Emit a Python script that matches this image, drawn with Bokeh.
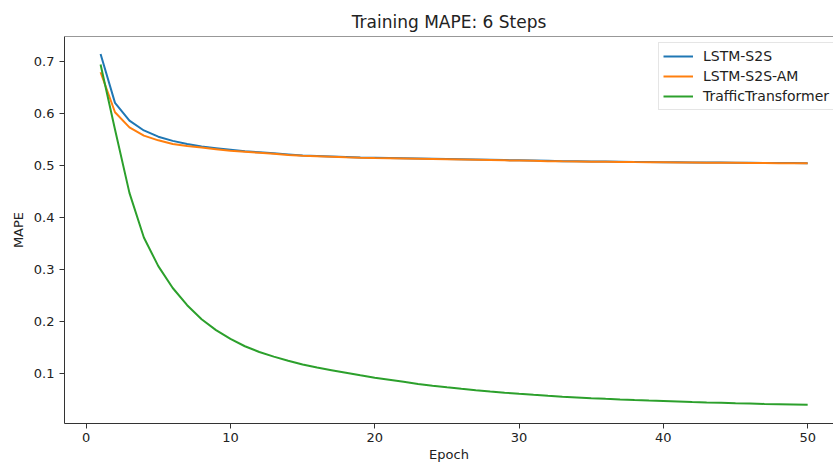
from bokeh.plotting import figure
from bokeh.models import Range1d, Legend, LegendItem, FixedTicker, Span
from bokeh.embed import file_html
from bokeh.resources import INLINE

epochs = list(range(1, 51))

lstm_s2s = [0.715, 0.621, 0.587, 0.568, 0.556, 0.548, 0.542, 0.537, 0.534, 0.531,
            0.528, 0.526, 0.524, 0.522, 0.520, 0.519, 0.518, 0.517, 0.516, 0.5155,
            0.515, 0.5145, 0.514, 0.5135, 0.513, 0.5125, 0.512, 0.5115, 0.511, 0.5105,
            0.510, 0.5095, 0.509, 0.5087, 0.5084, 0.5081, 0.5078, 0.5075, 0.5072, 0.507,
            0.5068, 0.5066, 0.5064, 0.5062, 0.506, 0.5058, 0.5056, 0.5054, 0.5052, 0.505]

lstm_s2s_am = [0.680, 0.603, 0.574, 0.558, 0.549, 0.542, 0.538, 0.535, 0.532, 0.529,
               0.527, 0.525, 0.523, 0.521, 0.5195, 0.5185, 0.5175, 0.5165, 0.5157, 0.515,
               0.5145, 0.514, 0.5135, 0.513, 0.5125, 0.512, 0.5115, 0.511, 0.5105, 0.510,
               0.5095, 0.509, 0.5086, 0.5083, 0.508, 0.5077, 0.5074, 0.5071, 0.5069, 0.5067,
               0.5065, 0.5063, 0.5061, 0.5059, 0.5057, 0.5055, 0.5053, 0.5051, 0.5049, 0.5047]

traffic_transformer = [0.695, 0.570, 0.448, 0.362, 0.307, 0.265, 0.232, 0.205, 0.184, 0.167,
                       0.153, 0.142, 0.133, 0.125, 0.118, 0.112, 0.107, 0.102, 0.097, 0.0925,
                       0.0885, 0.0845, 0.0805, 0.0770, 0.0740, 0.0712, 0.0685, 0.0660, 0.0637, 0.0615,
                       0.0595, 0.0577, 0.0560, 0.0545, 0.0531, 0.0518, 0.0506, 0.0495, 0.0485, 0.0476,
                       0.0467, 0.0456, 0.0448, 0.0441, 0.0434, 0.0428, 0.0421, 0.0415, 0.0409, 0.0403]

series_names = ["LSTM-S2S", "LSTM-S2S-AM", "TrafficTransformer"]
series_colors = ["#1f77b4", "#ff7f0e", "#2ca02c"]
x_ticks = [0, 10, 20, 30, 40, 50]
y_ticks = [0.1, 0.2, 0.3, 0.4, 0.5, 0.6, 0.7]

FONT = "DejaVu Sans"
TXT = "#222222"
Y_TOP = 0.7487

p = figure(width=833, height=465, output_backend="svg", toolbar_location=None,
           x_range=Range1d(-1.50, 51.79), y_range=Range1d(0.0044, Y_TOP),
           title="Training MAPE: 6 Steps",
           min_border_left=64, min_border_right=0, min_border_top=36, min_border_bottom=42)

p.title.align = "center"
p.title.offset = 4
p.title.text_font = FONT
p.title.text_font_size = "17px"
p.title.text_font_style = "normal"
p.title.text_color = TXT

p.xgrid.visible = False
p.ygrid.visible = False
p.outline_line_color = None
p.background_fill_color = "white"
p.border_fill_color = "white"

p.add_layout(Span(location=Y_TOP, dimension="width", line_color="#333333", line_width=1))

renderers = []
for ys, c in zip([lstm_s2s, lstm_s2s_am, traffic_transformer], series_colors):
    r = p.line(epochs, ys, line_color=c, line_width=2)
    renderers.append(r)

for ax in (p.xaxis[0], p.yaxis[0]):
    ax.axis_line_color = "#333333"
    ax.major_tick_line_color = "#333333"
    ax.major_tick_out = 5
    ax.major_tick_in = 0
    ax.minor_tick_line_color = None
    ax.major_label_text_font = FONT
    ax.major_label_text_font_size = "13px"
    ax.major_label_text_color = TXT
    ax.axis_label_text_font = FONT
    ax.axis_label_text_font_size = "13px"
    ax.axis_label_text_font_style = "normal"
    ax.axis_label_text_color = TXT

p.xaxis.ticker = FixedTicker(ticks=x_ticks)
p.yaxis.ticker = FixedTicker(ticks=y_ticks)
p.xaxis.axis_label = "Epoch"
p.yaxis.axis_label = "MAPE"
p.xaxis.major_label_standoff = 4
p.xaxis.axis_label_standoff = 2
p.yaxis.major_label_standoff = 5
p.yaxis.axis_label_standoff = 5

legend = Legend(items=[LegendItem(label=n, renderers=[r]) for n, r in zip(series_names, renderers)],
                location=(594, 313))
legend.label_text_font = FONT
legend.label_text_font_size = "14px"
legend.label_text_color = TXT
legend.label_height = 18
legend.glyph_height = 18
legend.glyph_width = 30
legend.label_standoff = 10
legend.spacing = 2
legend.padding = 4
legend.margin = 0
legend.border_line_color = "#cccccc"
legend.border_line_width = 1
legend.background_fill_alpha = 0.8
p.add_layout(legend, "center")

open("out.html", "w").write(file_html(p, INLINE))
